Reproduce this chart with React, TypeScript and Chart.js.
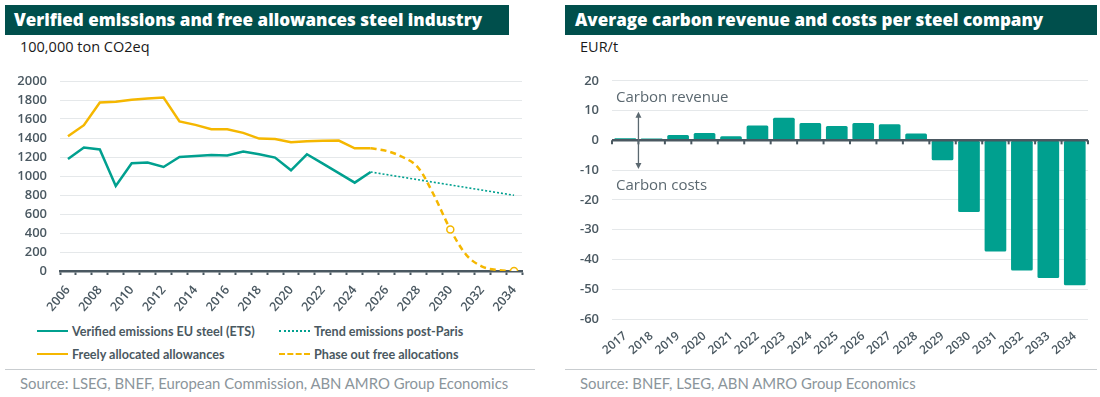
import React, { useEffect, useRef } from "react";
import { Chart, registerables } from "chart.js";
Chart.register(...registerables);

// ---------- Left chart data ----------
const years = [
  "2006", "2007", "2008", "2009", "2010", "2011", "2012", "2013", "2014", "2015",
  "2016", "2017", "2018", "2019", "2020", "2021", "2022", "2023", "2024", "2025",
  "2026", "2027", "2028", "2029", "2030", "2031", "2032", "2033", "2034",
];
const verifiedEmissions = [
  1180, 1300, 1279, 895, 1134, 1141, 1095, 1200, 1211, 1222,
  1215, 1257, 1229, 1194, 1060, 1229, 1130, 1030, 930, 1042,
  null, null, null, null, null, null, null, null, null,
];
const trendPostParis = [
  null, null, null, null, null, null, null, null, null, null,
  null, null, null, null, null, null, null, null, null, 1042,
  null, null, null, null, null, null, null, null, 797,
];
const freeAllowances = [
  1419, 1535, 1774, 1781, 1802, 1816, 1827, 1574, 1538, 1493,
  1493, 1454, 1394, 1390, 1356, 1366, 1370, 1373, 1292, 1292,
  null, null, null, null, null, null, null, null, null,
];
const phaseOutFree = [
  null, null, null, null, null, null, null, null, null, null,
  null, null, null, null, null, null, null, null, null, 1292,
  1264, 1200, 1085, 789, 438, 170, 47, 10, 0,
];
const leftYTicks = [0, 200, 400, 600, 800, 1000, 1200, 1400, 1600, 1800, 2000];

// ---------- Right chart data ----------
const barYears = [
  "2017", "2018", "2019", "2020", "2021", "2022", "2023", "2024", "2025",
  "2026", "2027", "2028", "2029", "2030", "2031", "2032", "2033", "2034",
];
const carbonBalance = [
  0.7, 0.6, 1.8, 2.5, 1.4, 5.0, 7.6, 5.8, 4.8,
  5.8, 5.4, 2.3, -6.7, -24.1, -37.3, -43.7, -46.2, -48.7,
];
const rightYTicks = [20, 10, 0, -10, -20, -30, -40, -50, -60];

const TEAL = "#00a08f";
const YELLOW = "#f5b700";
const AXIS = "#4a5861";
const GRID = "#e5e8ea";
const TICKTXT = "#4a5861";
const FONT = "'Open Sans', sans-serif";
const FONT2 = "Lato, 'Open Sans', sans-serif";

function LeftChart() {
  const ref = useRef<HTMLCanvasElement>(null);
  useEffect(() => {
    const chart = new Chart(ref.current!, {
      type: "line",
      data: {
        labels: years,
        datasets: [
          {
            label: "Verified emissions EU steel (ETS)",
            data: verifiedEmissions,
            borderColor: TEAL,
            borderWidth: 2.5,
            pointRadius: 0,
            tension: 0,
          },
          {
            label: "Trend emissions post-Paris",
            data: trendPostParis,
            borderColor: TEAL,
            borderWidth: 1.6,
            borderDash: [2, 2],
            pointRadius: 0,
            spanGaps: true,
          },
          {
            label: "Freely allocated allowances",
            data: freeAllowances,
            borderColor: YELLOW,
            borderWidth: 2.5,
            pointRadius: 0,
            tension: 0,
          },
          {
            label: "Phase out free allocations",
            data: phaseOutFree,
            borderColor: YELLOW,
            borderWidth: 2.5,
            borderDash: [6, 4],
            cubicInterpolationMode: "monotone",
            pointRadius: phaseOutFree.map((_, i) => (i === 24 || i === 28 ? 3.5 : 0)),
            pointBackgroundColor: "#ffffff",
            pointBorderColor: YELLOW,
            pointBorderWidth: 1.5,
          },
        ],
      },
      options: {
        animation: false,
        responsive: true,
        maintainAspectRatio: false,
        layout: { padding: { top: 21, right: 13, left: 0, bottom: 0 } },
        plugins: { legend: { display: false }, tooltip: { enabled: false } },
        scales: {
          x: {
            type: "category",
            offset: true,
            afterFit: (s: any) => { s.height = 45; },
            border: { display: true, color: AXIS, width: 2.5 },
            grid: {
              offset: true,
              drawOnChartArea: false,
              drawTicks: true,
              tickLength: 4,
              tickColor: AXIS,
              tickWidth: 2,
            },
            ticks: {
              autoSkip: false,
              minRotation: 50,
              maxRotation: 50,
              padding: 8,
              color: TICKTXT,
              font: { family: FONT, size: 12.5, weight: 600 },
              callback: (_v: any, i: number) => (i % 2 === 0 ? years[i] : ""),
            },
          },
          y: {
            min: 0,
            max: 2000,
            afterFit: (s: any) => { s.width = 60; },
            afterBuildTicks: (s: any) => { s.ticks = leftYTicks.map((v) => ({ value: v })); },
            border: { display: false },
            grid: { color: GRID, lineWidth: 1, drawTicks: false },
            ticks: {
              padding: 13,
              color: TICKTXT,
              font: { family: FONT, size: 13, weight: 600 },
              callback: (v: any) => String(v),
            },
          },
        },
      },
    });
    return () => chart.destroy();
  }, []);
  return <canvas ref={ref} />;
}

const zeroAxisPlugin = {
  id: "zeroAxis",
  afterDatasetsDraw(chart: any) {
    const { ctx, chartArea, scales } = chart;
    const x = scales.x;
    const y = scales.y;
    const y0 = y.getPixelForValue(0);
    ctx.save();
    ctx.strokeStyle = AXIS;
    ctx.lineWidth = 2.5;
    ctx.beginPath();
    ctx.moveTo(chartArea.left, y0);
    ctx.lineTo(chartArea.right, y0);
    ctx.stroke();
    ctx.lineWidth = 2;
    const n = x.ticks.length;
    const step = (chartArea.right - chartArea.left) / n;
    for (let i = 0; i <= n; i++) {
      const px = chartArea.left + i * step;
      ctx.beginPath();
      ctx.moveTo(px, y0);
      ctx.lineTo(px, y0 + 4);
      ctx.stroke();
    }
    // annotation arrow
    const xa = chartArea.left + step;
    const yTop = y.getPixelForValue(9.6);
    const yBot = y.getPixelForValue(-9.6);
    ctx.strokeStyle = "#5b6870";
    ctx.fillStyle = "#5b6870";
    ctx.lineWidth = 1.3;
    ctx.beginPath();
    ctx.moveTo(xa, yTop + 4);
    ctx.lineTo(xa, yBot - 4);
    ctx.stroke();
    ctx.beginPath();
    ctx.moveTo(xa, yTop);
    ctx.lineTo(xa - 3, yTop + 6);
    ctx.lineTo(xa + 3, yTop + 6);
    ctx.closePath();
    ctx.fill();
    ctx.beginPath();
    ctx.moveTo(xa, yBot);
    ctx.lineTo(xa - 3, yBot - 6);
    ctx.lineTo(xa + 3, yBot - 6);
    ctx.closePath();
    ctx.fill();
    ctx.font = `400 15px ${FONT}`;
    ctx.textAlign = "left";
    ctx.textBaseline = "middle";
    ctx.fillText("Carbon revenue", chartArea.left + 4, y.getPixelForValue(14.4));
    ctx.fillText("Carbon costs", chartArea.left + 4, y.getPixelForValue(-15.2));
    ctx.restore();
  },
};

function RightChart() {
  const ref = useRef<HTMLCanvasElement>(null);
  useEffect(() => {
    const chart = new Chart(ref.current!, {
      type: "bar",
      data: {
        labels: barYears,
        datasets: [
          {
            label: "Carbon revenue and costs",
            data: carbonBalance,
            backgroundColor: TEAL,
            borderRadius: 1.5,
            borderSkipped: false,
            barPercentage: 0.82,
            categoryPercentage: 1,
          },
        ],
      },
      plugins: [zeroAxisPlugin],
      options: {
        animation: false,
        responsive: true,
        maintainAspectRatio: false,
        layout: { padding: { top: 16, right: 7, left: 0, bottom: 0 } },
        plugins: { legend: { display: false }, tooltip: { enabled: false } },
        scales: {
          x: {
            afterFit: (s: any) => { s.height = 40; },
            border: { display: false },
            grid: { display: false },
            ticks: {
              autoSkip: false,
              minRotation: 40,
              maxRotation: 40,
              padding: 2,
              color: TICKTXT,
              font: { family: FONT, size: 12, weight: 600 },
            },
          },
          y: {
            min: -60,
            max: 20,
            afterFit: (s: any) => { s.width = 62; },
            afterBuildTicks: (s: any) => { s.ticks = rightYTicks.map((v) => ({ value: v })); },
            border: { display: false },
            grid: {
              color: (c: any) => (c.tick && c.tick.value === 0 ? "rgba(0,0,0,0)" : GRID),
              lineWidth: 1,
              drawTicks: false,
            },
            ticks: {
              padding: 13,
              color: TICKTXT,
              font: { family: FONT, size: 13, weight: 600 },
              callback: (v: any) => String(v),
            },
          },
        },
      },
    });
    return () => chart.destroy();
  }, []);
  return <canvas ref={ref} />;
}

const titleStyle: React.CSSProperties = {
  position: "absolute",
  top: 5,
  height: 30,
  background: "#004f4c",
  color: "#ffffff",
  fontFamily: FONT,
  fontWeight: 800,
  fontSize: 17,
  lineHeight: "30px",
  whiteSpace: "nowrap",
  boxSizing: "border-box",
};

const unitStyle: React.CSSProperties = {
  position: "absolute",
  top: 38,
  fontFamily: FONT,
  fontSize: 14.5,
  color: "#1a1a1a",
  lineHeight: "18px",
  whiteSpace: "nowrap",
};

const sourceStyle: React.CSSProperties = {
  position: "absolute",
  top: 373,
  fontFamily: FONT2,
  fontWeight: 400,
  fontSize: 14.9,
  color: "#8b959b",
  lineHeight: "20px",
  whiteSpace: "nowrap",
};

function LegendItem(props: { left: number; top: number; color: string; dash: string; label: string }) {
  return (
    <div
      style={{
        position: "absolute",
        left: props.left,
        top: props.top,
        height: 16,
        display: "flex",
        alignItems: "center",
        whiteSpace: "nowrap",
        fontFamily: FONT2,
        fontSize: 12.6,
        fontWeight: 700,
        color: "#4a5861",
      }}
    >
      <span
        style={{
          display: "inline-block",
          width: 31,
          height: 0,
          borderTop: `${props.dash === "dotted" ? 2 : 2.5}px ${props.dash} ${props.color}`,
          marginRight: 4,
        }}
      />
      {props.label}
    </div>
  );
}

export default function App() {
  return (
    <div style={{ position: "absolute", left: 0, top: 0, width: 1100, height: 397, background: "#ffffff", overflow: "hidden" }}>
      <div style={{ ...titleStyle, left: 5, width: 504, paddingLeft: 9 }}>
        Verified emissions and free allowances steel industry
      </div>
      <div style={{ ...unitStyle, left: 20 }}>100,000 ton CO2eq</div>
      <div style={{ position: "absolute", left: 0, top: 60, width: 535, height: 256 }}>
        <LeftChart />
      </div>
      <LegendItem left={37} top={323} color={TEAL} dash="solid" label="Verified emissions EU steel (ETS)" />
      <LegendItem left={279} top={323} color={TEAL} dash="dotted" label="Trend emissions post-Paris" />
      <LegendItem left={37} top={346} color={YELLOW} dash="solid" label="Freely allocated allowances" />
      <LegendItem left={279} top={346} color={YELLOW} dash="dashed" label="Phase out free allocations" />
      <div style={{ position: "absolute", left: 5, top: 369, width: 530, height: 1, background: "#c9cdd0" }} />
      <div style={{ ...sourceStyle, left: 20 }}>Source: LSEG, BNEF, European Commission, ABN AMRO Group Economics</div>

      <div style={{ ...titleStyle, left: 565, width: 532, paddingLeft: 10 }}>
        Average carbon revenue and costs per steel company
      </div>
      <div style={{ ...unitStyle, left: 580 }}>EUR/t</div>
      <div style={{ position: "absolute", left: 550, top: 60, width: 545, height: 299 }}>
        <RightChart />
      </div>
      <div style={{ position: "absolute", left: 565, top: 369, width: 532, height: 1, background: "#c9cdd0" }} />
      <div style={{ ...sourceStyle, left: 580 }}>Source: BNEF, LSEG, ABN AMRO Group Economics</div>
    </div>
  );
}
